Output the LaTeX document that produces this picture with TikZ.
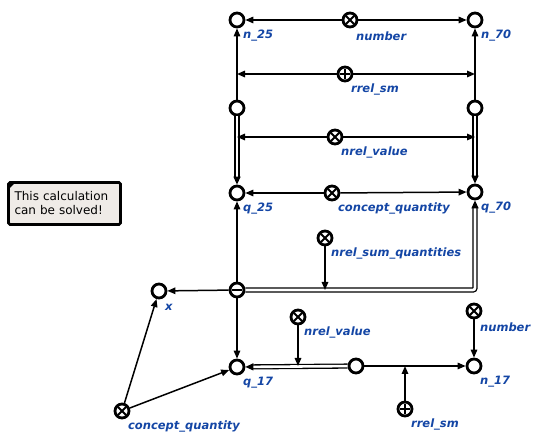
\documentclass[tikz,border=0pt]{standalone}
\usepackage{fontspec}
\setsansfont{DejaVu Sans}
\usetikzlibrary{arrows.meta}
\definecolor{sclabel}{RGB}{20,70,165}
\definecolor{notebg}{RGB}{239,235,231}
\tikzset{
  scnode/.style={circle, draw, line width=2.8pt, fill=white, minimum size=14pt, inner sep=0pt},
  scclass/.style={scnode, path picture={\draw[line width=1.9pt] (path picture bounding box.center) +(-4pt,-4pt) -- +(4pt,4pt) (path picture bounding box.center) +(-4pt,4pt) -- +(4pt,-4pt);}},
  scrole/.style={scnode, path picture={\draw[line width=1.7pt] (path picture bounding box.center) +(-5pt,0pt) -- +(5pt,0pt) (path picture bounding box.center) +(0pt,-5pt) -- +(0pt,5pt);}},
  sctuple/.style={scnode, path picture={\draw[line width=1.9pt] (path picture bounding box.center) +(-5pt,0pt) -- +(5pt,0pt);}},
  lbl/.style={font=\sffamily\bfseries\itshape\fontsize{11.5}{13}\selectfont, text=sclabel, anchor=west, inner sep=0pt, yshift=-10pt},
  scarc/.style={line width=1.5pt, -{Triangle[length=8pt,width=6.5pt]}},
  scpair/.style={double, line width=1.3pt, double distance=2.6pt, -{Triangle[length=8pt,width=7pt]}},
  note/.style={draw, line width=2.8pt, fill=notebg, rounded corners=1.5pt, text width=100pt, inner sep=6pt, minimum height=42pt, align=left, font=\sffamily\fontsize{12}{14}\selectfont, path picture={\fill[black] (path picture bounding box.north west) -- ++(7pt,0pt) -- ++(-7pt,-7pt) -- cycle;}}
}
\begin{document}
\begin{tikzpicture}[x=1pt,y=-1pt]
    \useasboundingbox (0,0) rectangle (541,443);
    % note
    \node[note] (msg) at (64.5,203.5) {This calculation\\can be solved!};
    % top row
    \node[scnode, label={[lbl]south east:n\_25}] (n25) at (237,20) {};
    \node[scclass, label={[lbl]south east:number}] (numT) at (350,20) {};
    \node[scnode, label={[lbl]south east:n\_70}] (n70) at (475,20) {};
    \node[scrole, label={[lbl]south east:rrel\_sm}] (rrelT) at (345,74) {};
    % middle row
    \node[scnode] (a25) at (237,108) {};
    \node[scnode] (a70) at (475,108) {};
    \node[scclass, label={[lbl]south east:nrel\_value}] (nvalT) at (335,137) {};
    % quantities
    \node[scnode, label={[lbl]south east:q\_25}] (q25) at (237,193) {};
    \node[scclass, label={[lbl]south east:concept\_quantity}] (cqT) at (332,193) {};
    \node[scnode, label={[lbl]south east:q\_70}] (q70) at (475,192) {};
    % sum
    \node[scclass, label={[lbl]south east:nrel\_sum\_quantities}] (nsum) at (325,238) {};
    \node[scnode, label={[lbl]south east:x}] (x) at (159,291) {};
    \node[sctuple] (sum) at (237,290) {};
    % bottom row
    \node[scclass, label={[lbl]south east:nrel\_value}] (nvalB) at (298,317) {};
    \node[scclass, label={[lbl]south east:number}] (numB) at (474,311) {};
    \node[scnode, label={[lbl]south east:q\_17}] (q17) at (237,367) {};
    \node[scnode] (mid) at (356,366) {};
    \node[scnode, label={[lbl]south east:n\_17}] (n17) at (474,366) {};
    \node[scclass, label={[lbl]south east:concept\_quantity}] (cqB) at (122,411) {};
    \node[scrole, label={[lbl]south east:rrel\_sm}] (rrelB) at (405,409) {};
    % points on connectors
    \coordinate (t1) at (rrelT -| a25);
    \coordinate (t2) at (rrelT -| a70);
    \coordinate (t3) at (nvalT -| a25);
    \coordinate (t4) at (nvalT -| a70);
    \coordinate (t5) at (nsum |- sum);
    \coordinate (t6) at (nvalB |- mid);
    \coordinate (t7) at (rrelB |- mid);
    % top connectors
    \draw[scarc] (numT) -- (n25);
    \draw[scarc] (numT) -- (n70);
    \draw[scarc] (a25) -- (n25);
    \draw[scarc] (a70) -- (n70);
    \draw[scarc] (rrelT) -- (t1);
    \draw[scarc] (rrelT) -- (t2);
    \draw[scpair] (a25) -- (q25);
    \draw[scpair] (a70) -- (q70);
    \draw[scarc] (nvalT) -- (t3);
    \draw[scarc] (nvalT) -- (t4);
    \draw[scarc] (cqT) -- (q25);
    \draw[scarc] (cqT) -- (q70);
    % sum connectors
    \draw[scarc] (sum) -- (q25);
    \draw[scarc] (sum) -- (q17);
    \draw[scarc] (sum) -- (x);
    \draw[scpair, rounded corners=2pt] (sum) -| (q70);
    \draw[scarc] (nsum) -- (t5);
    % bottom connectors
    \draw[scpair] (mid) -- (q17);
    \draw[scarc] (nvalB) -- (t6);
    \draw[scarc] (mid) -- (n17);
    \draw[scarc] (rrelB) -- (t7);
    \draw[scarc] (numB) -- (n17);
    \draw[scarc] (cqB) -- (x);
    \draw[scarc] (cqB) -- (q17);
\end{tikzpicture}
\end{document}
